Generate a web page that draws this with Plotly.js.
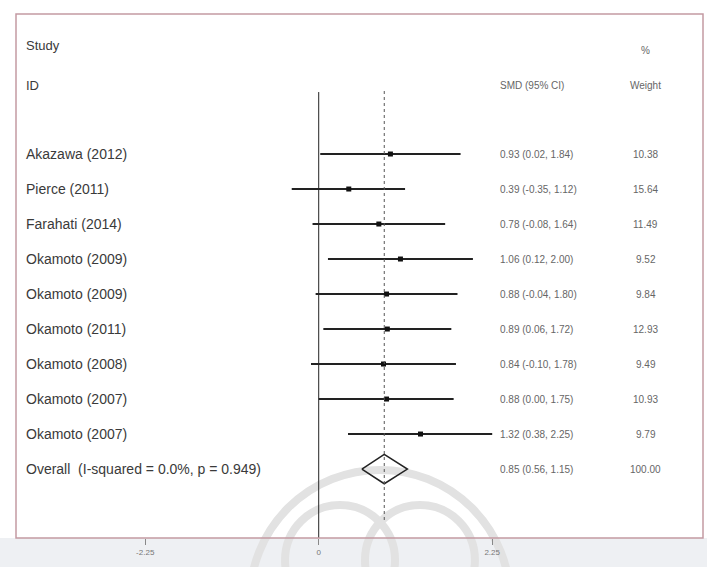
<!DOCTYPE html>
<html><head><meta charset="utf-8">
<script src="https://cdn.plot.ly/plotly-3.0.1.min.js"></script>
<style>body{margin:0;background:#fff}#c{width:707px;height:567px}</style>
</head><body><div id="c"></div>
<script>
const studies = ["Akazawa (2012)","Pierce (2011)","Farahati (2014)","Okamoto (2009)","Okamoto (2009)","Okamoto (2011)","Okamoto (2008)","Okamoto (2007)","Okamoto (2007)"];
const smd   = [0.93, 0.39, 0.78, 1.06, 0.88, 0.89, 0.84, 0.88, 1.32];
const lower = [0.02, -0.35, -0.08, 0.12, -0.04, 0.06, -0.10, 0.00, 0.38];
const upper = [1.84, 1.12, 1.64, 2.00, 1.80, 1.72, 1.78, 1.75, 2.25];
const weights = ["10.38","15.64","11.49","9.52","9.84","12.93","9.49","10.93","9.79"];
const overallLabel = "Overall  (I-squared = 0.0%, p = 0.949)";
const overall = {est: 0.85, lo: 0.56, hi: 1.15, weight: "100.00"};
const tickVals = [-2.25, 0, 2.25];
const tickText = ["-2.25", "0", "2.25"];

const rows = studies.map((s, i) => i + 1);
const overallRow = studies.length + 1;
const fmt = v => v.toFixed(2);
const ciText = (e, l, h) => fmt(e) + " (" + fmt(l) + ", " + fmt(h) + ")";

const traces = [];
traces.push({
  type: "scatter", mode: "markers", x: smd, y: rows,
  marker: {symbol: "square", size: 5, color: "#111"},
  error_x: {type: "data", symmetric: false,
    array: upper.map((u, i) => u - smd[i]),
    arrayminus: smd.map((e, i) => e - lower[i]),
    width: 0, thickness: 2, color: "#222"},
  hoverinfo: "skip", showlegend: false
});
const dh = 0.42;
traces.push({
  type: "scatter", mode: "lines",
  x: [overall.lo, overall.est, overall.hi, overall.est, overall.lo],
  y: [overallRow, overallRow - dh, overallRow, overallRow + dh, overallRow],
  line: {color: "#222", width: 1.5}, hoverinfo: "skip", showlegend: false
});

const ann = [];
const FAM = "Liberation Sans, Arial, sans-serif";
const lblFont = {family: FAM, size: 14, color: "#3a3a3a"};
const smallFont = {family: FAM, size: 10, color: "#666"};
const colLabel = 0.0116, colCI = 0.7016, colW = 0.917;
studies.forEach((s, i) => {
  ann.push({xref: "paper", yref: "y", x: colLabel, y: rows[i], text: s, showarrow: false, xanchor: "left", yanchor: "middle", font: lblFont});
  ann.push({xref: "paper", yref: "y", x: colCI, y: rows[i], text: ciText(smd[i], lower[i], upper[i]), showarrow: false, xanchor: "left", yanchor: "middle", font: smallFont});
  ann.push({xref: "paper", yref: "y", x: colW, y: rows[i], text: weights[i], showarrow: false, xanchor: "center", yanchor: "middle", font: smallFont});
});
ann.push({xref: "paper", yref: "y", x: colLabel, y: overallRow, text: overallLabel, showarrow: false, xanchor: "left", yanchor: "middle", font: lblFont});
ann.push({xref: "paper", yref: "y", x: colCI, y: overallRow, text: ciText(overall.est, overall.lo, overall.hi), showarrow: false, xanchor: "left", yanchor: "middle", font: smallFont});
ann.push({xref: "paper", yref: "y", x: colW, y: overallRow, text: overall.weight, showarrow: false, xanchor: "center", yanchor: "middle", font: smallFont});
const hdrFont = {family: FAM, size: 13, color: "#3a3a3a"};
ann.push({xref: "paper", yref: "y", x: colLabel, y: -2.11, text: "Study", showarrow: false, xanchor: "left", yanchor: "middle", font: hdrFont});
ann.push({xref: "paper", yref: "y", x: colLabel, y: -0.97, text: "ID", showarrow: false, xanchor: "left", yanchor: "middle", font: hdrFont});
ann.push({xref: "paper", yref: "y", x: colCI, y: -0.97, text: "SMD (95% CI)", showarrow: false, xanchor: "left", yanchor: "middle", font: smallFont});
ann.push({xref: "paper", yref: "y", x: colW, y: -1.97, text: "%", showarrow: false, xanchor: "center", yanchor: "middle", font: smallFont});
ann.push({xref: "paper", yref: "y", x: colW, y: -0.97, text: "Weight", showarrow: false, xanchor: "center", yanchor: "middle", font: smallFont});

const wm = {color: "#e2e2e2", width: 8};
const shapes = [
  // bottom gray band
  {type: "rect", xref: "paper", yref: "paper", x0: -0.05, x1: 1.05, y0: -0.2, y1: 0, fillcolor: "#eef0f3", line: {width: 0}, layer: "below"},
  // watermark ornament
  {type: "circle", xref: "paper", yref: "paper", x0: 0.3406, x1: 0.719, y0: -0.366, y1: 0.130, line: wm, layer: "below"},
  {type: "circle", xref: "paper", yref: "paper", x0: 0.3916, x1: 0.5517, y0: -0.147, y1: 0.063, line: wm, layer: "below"},
  {type: "circle", xref: "paper", yref: "paper", x0: 0.508, x1: 0.668, y0: -0.147, y1: 0.063, line: wm, layer: "below"},
  // null line
  {type: "line", xref: "x", yref: "y", x0: 0, x1: 0, y0: -0.77, y1: 11.97, line: {color: "#222", width: 1}},
  // overall dashed line
  {type: "line", xref: "x", yref: "y", x0: overall.est, x1: overall.est, y0: -0.8, y1: 11.5, line: {color: "#555", width: 1, dash: "3px,3px"}},
  // frame
  {type: "rect", xref: "paper", yref: "paper", x0: 0, x1: 1, y0: 0, y1: 1, line: {color: "#c49aa3", width: 1.5}}
];

const layout = {
  width: 707, height: 567,
  margin: {l: 16, r: 4, t: 14, b: 29},
  paper_bgcolor: "#ffffff", plot_bgcolor: "rgba(0,0,0,0)",
  xaxis: {range: [-3.926, 4.984], showgrid: false, zeroline: false, showline: false,
    tickvals: tickVals, ticktext: tickText, ticks: "outside", ticklen: 6, tickcolor: "#888",
    tickfont: {family: FAM, size: 8, color: "#777"}},
  yaxis: {range: [11.97, -3.0], showgrid: false, zeroline: false, showticklabels: false, showline: false},
  shapes: shapes, annotations: ann, showlegend: false
};
Plotly.newPlot("c", traces, layout, {staticPlot: true, displayModeBar: false});
</script></body></html>
